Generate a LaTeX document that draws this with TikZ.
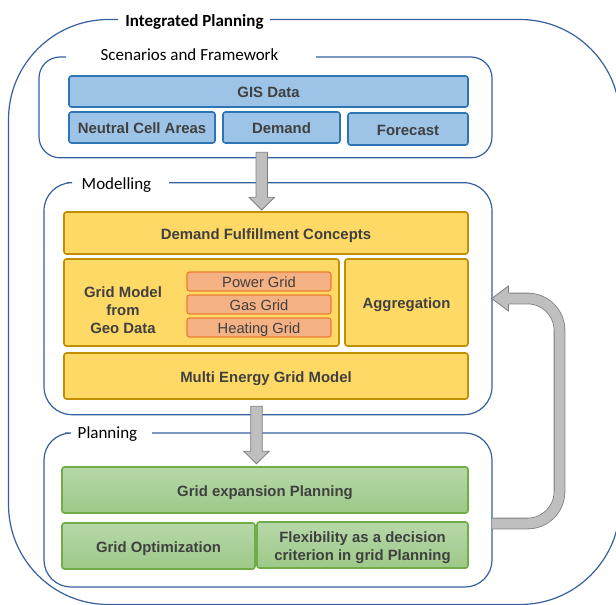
\documentclass[tikz,border=0pt]{standalone}
\usepackage{fontspec}
\setmainfont{Liberation Sans}
\newfontfamily\calib{Carlito}
\usetikzlibrary{calc}
\definecolor{framec}{HTML}{35609F}
\definecolor{bluefill}{HTML}{9DC3E6}
\definecolor{blueline}{HTML}{2E75B6}
\definecolor{yelfill}{HTML}{FFD966}
\definecolor{yelline}{HTML}{C09000}
\definecolor{orfill}{HTML}{F4B183}
\definecolor{orline}{HTML}{ED7D31}
\definecolor{grtop}{HTML}{B7D8A9}
\definecolor{grbot}{HTML}{9CC988}
\definecolor{grline}{HTML}{70AD47}
\definecolor{txt}{HTML}{404040}
\definecolor{arrfill}{HTML}{BFBFBF}
\definecolor{arrline}{HTML}{7F7F7F}
\tikzset{
  frame/.style={draw=framec, line width=1.2pt},
  framelabel/.style={font=\calib\fontsize{17}{20}\selectfont, text=black, inner sep=0pt, anchor=base},
  box/.style={rectangle, rounded corners=2.5pt, line width=1.6pt, inner sep=1pt,
    font=\bfseries\fontsize{14.9}{17.5}\selectfont, text=txt, align=center},
  oneline/.style={text height=12.7pt, text depth=0pt},
  bluebox/.style={box, oneline, draw=blueline, fill=bluefill},
  yelbox/.style={box, oneline, draw=yelline, fill=yelfill},
  orbox/.style={box, oneline, draw=orline, fill=orfill, line width=1.2pt, font=\fontsize{14.7}{17.5}\selectfont},
  grbox/.style={box, oneline, draw=grline, top color=grtop, bottom color=grbot},
  boxtext/.style={box, font=\bfseries\fontsize{14.9}{18}\selectfont},
  blockarrow/.style={fill=arrfill, draw=arrline, line width=0.8pt, line join=miter},
}
\begin{document}
\begin{tikzpicture}[x=1pt,y=-1pt]
\useasboundingbox (0,0) rectangle (616,605);
% frames
\draw[frame, rounded corners=100pt] (270,19.5) -- (620,19.5) -- (620,604.5) -- (8.5,604.5) -- (8.5,19.5) -- (118,19.5);
\node[framelabel, font=\calib\bfseries\fontsize{17}{20}\selectfont] (lblint) at (194.5,26.2) {Integrated Planning};
\draw[frame, rounded corners=21pt] (316,57) -- (492,57) -- (492,157.8) -- (39,157.8) -- (39,57) -- (66,57);
\node[framelabel] (lblscen) at (189.5,60.2) {Scenarios and Framework};
\draw[frame, rounded corners=28pt] (169,182.7) -- (492,182.7) -- (492,414.7) -- (44,414.7) -- (44,182.7) -- (67,182.7);
\node[framelabel] (lblmod) at (116.5,189.5) {Modelling};
\draw[frame, rounded corners=27pt] (152,433) -- (492,433) -- (492,587) -- (44,587) -- (44,433) -- (65,433);
\node[framelabel] (lblplan) at (107.5,438) {Planning};
% scenario boxes
\node[bluebox, minimum width=399pt, minimum height=31pt] (gis) at (268.5,91.5) {GIS Data};
\node[bluebox, minimum width=146pt, minimum height=31pt] (nca) at (142,127.5) {Neutral Cell Areas};
\node[bluebox, minimum width=117pt, minimum height=31pt] (dem) at (281.5,127.5) {Demand};
\node[bluebox, minimum width=120pt, minimum height=32pt] (fc) at (408,129) {Forecast};
% modelling boxes
\node[yelbox, minimum width=404pt, minimum height=42pt] (dfc) at (266,233) {Demand Fulfillment Concepts};
\node[yelbox, minimum width=275pt, minimum height=87pt] (gm) at (201.5,302.5) {};
\node[boxtext] (gmt) at (123,310) {Grid Model\\from\\Geo Data};
\node[yelbox, minimum width=123pt, minimum height=87pt] (agg) at (406.5,302.5) {Aggregation};
\node[orbox, minimum width=144pt, minimum height=19pt] (pg) at (259,281.5) {Power Grid};
\node[orbox, minimum width=144pt, minimum height=19pt] (gg) at (259,304.5) {Gas Grid};
\node[orbox, minimum width=144pt, minimum height=19pt] (hg) at (259,327.5) {Heating Grid};
\node[yelbox, minimum width=404pt, minimum height=46pt] (meg) at (266,376) {Multi Energy Grid Model};
% planning boxes
\node[grbox, minimum width=406pt, minimum height=46pt] (gep) at (265,490) {Grid expansion Planning};
\node[grbox, minimum width=193pt, minimum height=46pt] (go) at (158.5,546) {Grid Optimization};
\node[grbox, minimum width=211pt, minimum height=46pt] (flex) at (362.5,545) {};
\node[boxtext] (flext) at (362.5,547.2) {Flexibility as a decision\\criterion in grid Planning};
% straight block arrows
\coordinate (a1s) at (261.7,152.3);
\coordinate (a1e) at (261.7,210);
\coordinate (a2s) at (256.5,406.3);
\coordinate (a2e) at (256.5,463.7);
\draw[blockarrow] ($(a1s)+(-5.7,0)$) -- ($(a1e)+(-5.7,-12.7)$) -- ($(a1e)+(-12.7,-12.7)$) -- (a1e)
  -- ($(a1e)+(12.7,-12.7)$) -- ($(a1e)+(5.7,-12.7)$) -- ($(a1s)+(5.7,0)$) -- cycle;
\draw[blockarrow] ($(a2s)+(-5.8,0)$) -- ($(a2e)+(-5.8,-12.4)$) -- ($(a2e)+(-12.7,-12.4)$) -- (a2e)
  -- ($(a2e)+(12.7,-12.4)$) -- ($(a2e)+(5.8,-12.4)$) -- ($(a2s)+(5.8,0)$) -- cycle;
% feedback arrow
\coordinate (fbs) at (492,523.5);
\coordinate (fbc1) at (559.5,523.5);
\coordinate (fbc2) at (559.5,298.5);
\coordinate (fbb) at (508.5,298.5);
\coordinate (fbt) at (491.7,298.5);
\draw[draw=arrline, line width=0.8pt, double=arrfill, double distance=10pt, rounded corners=32pt]
  (fbs) -- (fbc1) -- (fbc2) -- (fbb);
\fill[arrfill] ($(fbb)+(1,-5.6)$) -- ($(fbb)+(0,-5.6)$) -- ($(fbb)+(0,-12.5)$) -- (fbt) -- ($(fbb)+(0,12.5)$) -- ($(fbb)+(0,5.6)$) -- ($(fbb)+(1,5.6)$) -- cycle;
\draw[arrline, line width=0.8pt, line join=miter] ($(fbb)+(0,-5.4)$) -- ($(fbb)+(0,-12.5)$) -- (fbt) -- ($(fbb)+(0,12.5)$) -- ($(fbb)+(0,5.4)$);
\end{tikzpicture}
\end{document}
